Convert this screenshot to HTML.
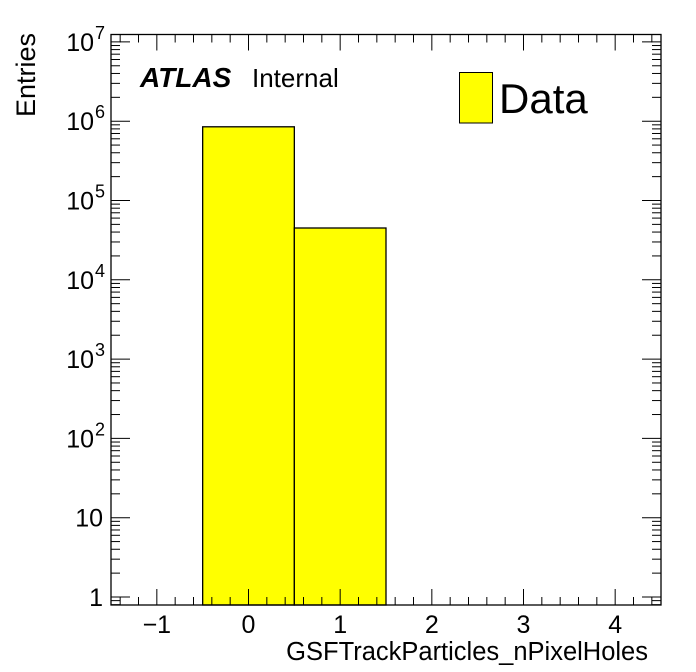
<!DOCTYPE html>
<html><head><meta charset="utf-8"><style>
body{margin:0;background:#fff;}
svg{display:block;font-family:"Liberation Sans",Arial,sans-serif;}
</style></head><body>
<svg id="chart" width="696" height="672" viewBox="0 0 696 672">
<rect x="0" y="0" width="696" height="672" fill="#fff"/>
<g id="bars"></g>
<g id="ticks" stroke="#000" stroke-width="1"></g>
<g id="labels" font-size="25" fill="#000"></g>
<rect x="111" y="34.5" width="550" height="570.5" fill="none" stroke="#000" stroke-width="1.3"/>
<text x="140" y="87" font-size="28" font-weight="bold" font-style="italic">ATLAS</text>
<text x="252" y="87" font-size="26">Internal</text>
<rect x="459.5" y="72.5" width="33" height="50.5" fill="#ffff00" stroke="#000" stroke-width="1"/>
<text x="499" y="113" font-size="42">Data</text>
<text x="648" y="660" font-size="25.5" text-anchor="end">GSFTrackParticles_nPixelHoles</text>
<text transform="translate(35,117) rotate(-90)" font-size="27">Entries</text>
</svg>
<script>
const binLow = [-0.5, 0.5];
const binHigh = [0.5, 1.5];
const binValues = [850000, 45000];
const xTickValues = [-1, 0, 1, 2, 3, 4];
const xTickLabels = ["\u22121", "0", "1", "2", "3", "4"];
const yDecades = [0, 1, 2, 3, 4, 5, 6, 7];

const X0 = 111, X1 = 661, Y0 = 605, Y1 = 34.5;
const XMIN = -1.5, XMAX = 4.5;
const Y1VAL = 597, DEC = 79.3;
const NS = "http://www.w3.org/2000/svg";
function xs(v){ return X0 + (v - XMIN) / (XMAX - XMIN) * (X1 - X0); }
function ys(v){ return Y1VAL - Math.log10(v) * DEC; }
function mk(tag, attrs, parent){ const e = document.createElementNS(NS, tag); for (const k in attrs) e.setAttribute(k, attrs[k]); parent.appendChild(e); return e; }

const barsG = document.getElementById('bars');
for (let i = 0; i < binValues.length; i++) {
  const xa = xs(binLow[i]), xb = xs(binHigh[i]), yt = ys(binValues[i]);
  const r = mk('rect', {x: xa, y: yt, width: xb - xa, height: Y0 - yt, fill: '#ffff00', stroke: '#000', 'stroke-width': 1.3}, barsG);
  
  
}

const tG = document.getElementById('ticks');
for (let v = -1.4; v <= 4.41; v += 0.2) {
  const vv = Math.round(v * 10) / 10;
  const major = Math.abs(vv - Math.round(vv)) < 1e-6;
  const L = major ? 16 : 8;
  const x = xs(vv);
  mk('line', {x1: x, x2: x, y1: Y0, y2: Y0 - L}, tG);
  mk('line', {x1: x, x2: x, y1: Y1, y2: Y1 + L}, tG);
}
for (let d = -1; d <= 7; d++) {
  for (let m = 1; m <= 9; m++) {
    const v = m * Math.pow(10, d);
    const y = ys(v);
    if (y > Y0 || y < Y1) continue;
    const L = m === 1 ? 19 : 9;
    mk('line', {x1: X0, x2: X0 + L, y1: y, y2: y}, tG);
    mk('line', {x1: X1, x2: X1 - L, y1: y, y2: y}, tG);
  }
}
const lG = document.getElementById('labels');
for (let i = 0; i < xTickValues.length; i++) {
  const t = mk('text', {x: xs(xTickValues[i]), y: 633, 'text-anchor': 'middle'}, lG);
  t.textContent = xTickLabels[i];
  
  
}
for (const d of yDecades) {
  const y = ys(Math.pow(10, d));
  const t = mk('text', {x: d >= 2 ? 94 : 103, y: y + 9, 'text-anchor': 'end'}, lG);
  
  
  if (d === 0) t.textContent = '1';
  else if (d === 1) t.textContent = '10';
  else {
    t.textContent = '10';
    const s = mk('text', {x: 95, y: y - 3, 'font-size': 18}, lG);
    s.textContent = String(d);
    
    
  }
}
</script>
</body></html>
